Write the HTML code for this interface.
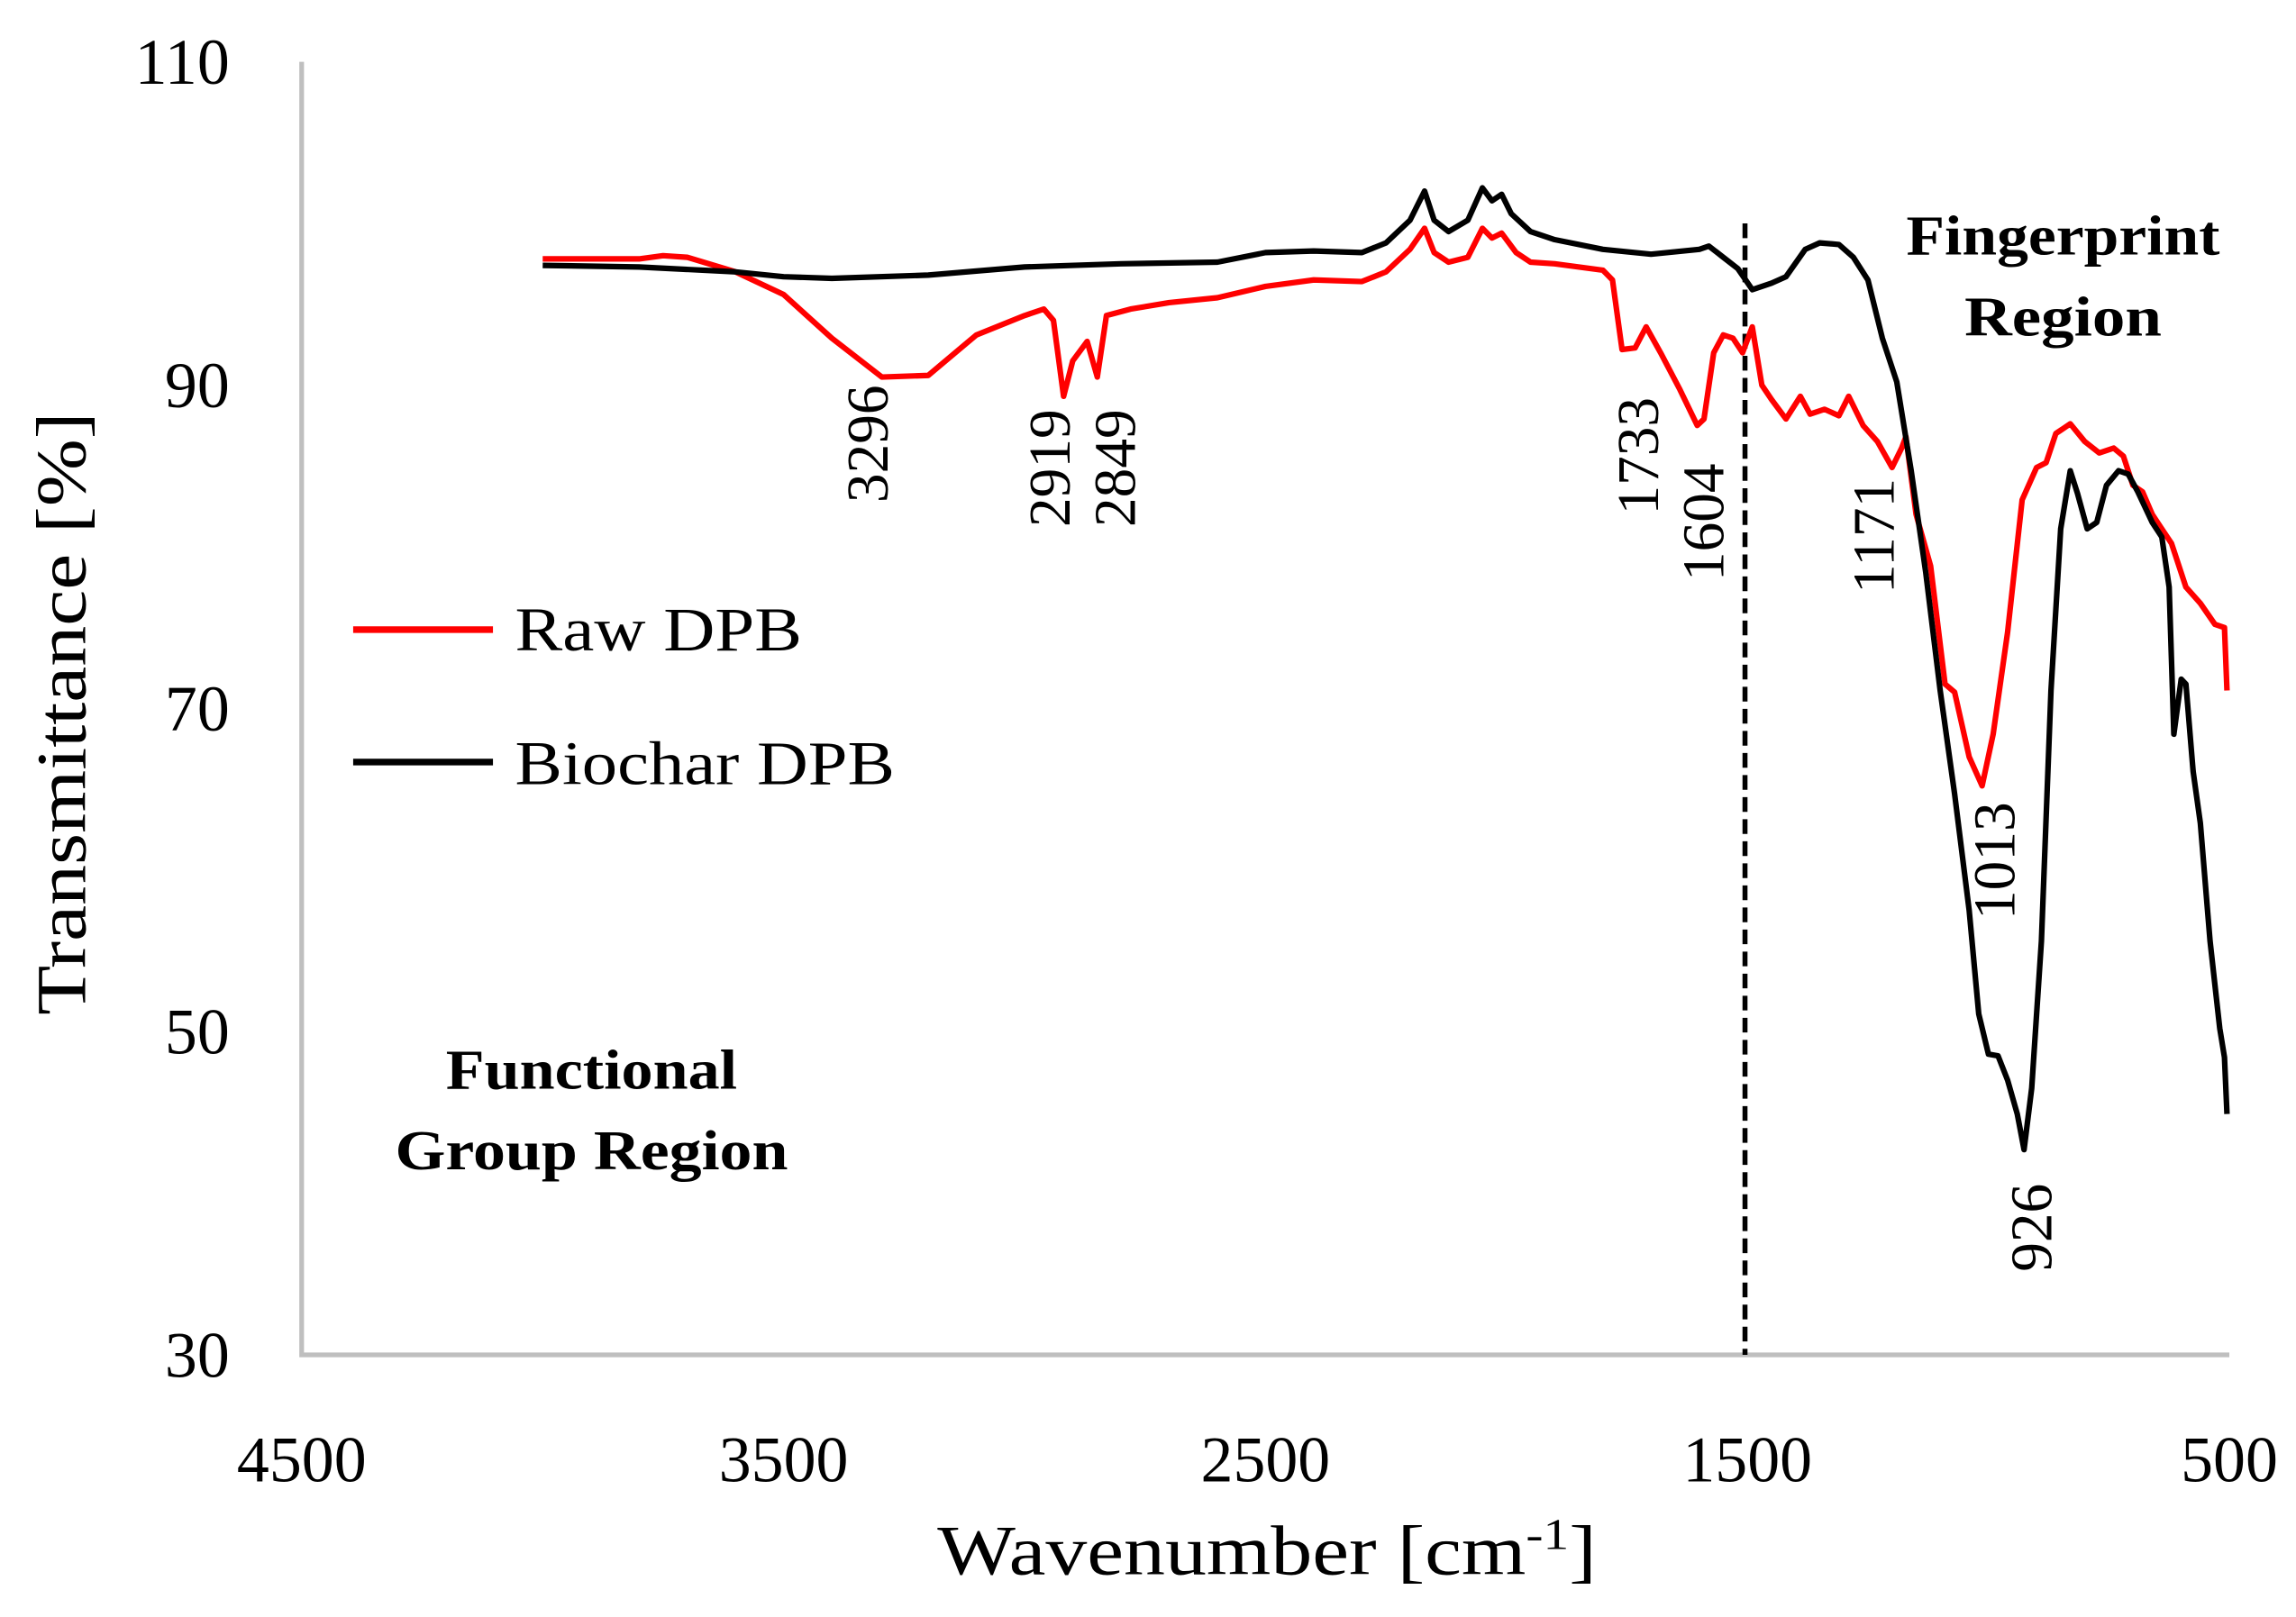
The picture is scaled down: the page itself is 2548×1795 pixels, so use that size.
<!DOCTYPE html>
<html><head><meta charset="utf-8"><style>
html,body{margin:0;padding:0;background:#fff;}
svg{display:block;font-family:"Liberation Serif",serif;}
</style></head><body>
<svg id="chart" width="2548" height="1795" viewBox="0 0 1560.3 1099.2" xmlns="http://www.w3.org/2000/svg">
<g id="plot"></g>
</svg>
<script>
const rawWn = [4000,3800,3750,3700,3600,3500,3400,3296,3200,3100,3000,2960,2940,2919,2900,2870,2849,2830,2780,2700,2600,2500,2400,2300,2250,2200,2170,2150,2120,2080,2050,2030,2010,1980,1950,1900,1800,1780,1760,1733,1710,1680,1640,1604,1590,1570,1550,1530,1510,1490,1470,1450,1420,1390,1370,1340,1310,1290,1260,1230,1200,1180,1171,1150,1120,1090,1070,1040,1013,990,960,930,900,880,860,830,800,770,740,720,700,680,660,640,620,590,560,530,510,505];
const rawT = [97.8,97.8,98.0,97.9,97.0,95.6,92.9,90.5,90.6,93.1,94.3,94.7,94.0,89.3,91.5,92.7,90.5,94.3,94.7,95.1,95.4,96.1,96.5,96.4,97.0,98.4,99.7,98.2,97.6,97.9,99.7,99.1,99.4,98.2,97.6,97.5,97.1,96.5,92.2,92.3,93.6,92.0,89.7,87.5,87.9,92.0,93.1,92.9,92.0,93.6,90.0,89.1,87.9,89.3,88.2,88.5,88.1,89.3,87.5,86.5,84.9,86.1,86.8,82.0,78.8,71.5,71.0,67.0,65.2,68.4,74.7,82.9,84.9,85.2,87.0,87.6,86.5,85.8,86.1,85.6,83.8,83.4,82.0,81.1,80.2,77.5,76.5,75.2,75.0,71.1];
const bioWn = [4000,3800,3600,3500,3400,3200,3000,2800,2600,2500,2400,2300,2250,2200,2170,2150,2120,2080,2050,2030,2010,1990,1950,1900,1800,1700,1600,1580,1550,1520,1490,1450,1420,1380,1350,1310,1280,1250,1220,1190,1160,1130,1100,1070,1040,1020,1000,980,960,940,926,910,890,870,850,830,815,795,775,755,730,710,690,660,640,625,615,600,590,575,560,540,520,510,505];
const bioT = [97.4,97.3,97.0,96.7,96.6,96.8,97.3,97.5,97.6,98.2,98.3,98.2,98.8,100.2,102.0,100.2,99.5,100.2,102.2,101.4,101.8,100.6,99.5,99.0,98.4,98.1,98.4,98.6,97.9,97.2,95.9,96.3,96.7,98.4,98.8,98.7,97.9,96.5,92.9,90.2,84.7,78.4,71.1,64.7,57.5,51.1,48.6,48.5,47.0,44.9,42.7,46.5,55.6,71.1,81.1,84.7,83.3,81.1,81.5,83.8,84.7,84.5,83.4,81.5,80.6,77.5,68.4,71.8,71.5,66.1,62.9,55.6,50.2,48.4,44.9];
const xTicks = [4500,3500,2500,1500,500];
const yTicks = [110,90,70,50,30];
const peakNames = ["3296","2919","2849","1733","1604","1171","1013","926"];
const peakLabelWn = [3327,2949,2814,1728,1593,1239,989,912];
const peakLabelT = [90.0,88.5,88.5,89.25,85.15,84.24,64.2,40.6];
const dividerWn = 1505;

const NS="http://www.w3.org/2000/svg";
const X0=205,X1=1515,Y0=42,Y1=921;
const sx=w=>X0+(4500-w)/4000*(X1-X0);
const sy=t=>Y0+(110-t)/80*(Y1-Y0);
const svg=document.getElementById('chart');
function mk(tag,attrs,parent){const e=document.createElementNS(NS,tag);for(const k in attrs)e.setAttribute(k,attrs[k]);(parent||svg).appendChild(e);return e;}

let ax=mk('path',{d:`M${X0},${Y0} V${Y1} H${X1}`,fill:'none',stroke:'#bfbfbf','stroke-width':3.2});



yTicks.forEach(v=>{const t=mk('text',{x:156,y:sy(v)+15,'text-anchor':'end','font-size':44});t.textContent=v;

});
xTicks.forEach(v=>{const t=mk('text',{x:sx(v),y:1007,'text-anchor':'middle','font-size':44});t.textContent=v;

});

let dv=mk('line',{x1:sx(dividerWn),x2:sx(dividerWn),y1:sy(100),y2:Y1,stroke:'#000','stroke-width':3.4,'stroke-dasharray':'10,5'});



function series(wn,tv,color,name){const d=wn.map((w,i)=>(i?'L':'M')+sx(w).toFixed(1)+','+sy(tv[i]).toFixed(1)).join(' ');
const p=mk('path',{d:d,fill:'none',stroke:color,'stroke-width':3.8,'stroke-linejoin':'round'});

}
series(rawWn,rawT,'#ff0000','raw-dpb-line');
series(bioWn,bioT,'#000000','biochar-dpb-line');

peakNames.forEach((s,i)=>{const x=sx(peakLabelWn[i])+14,y=sy(peakLabelT[i]);
const t=mk('text',{x:x,y:y,transform:`rotate(-90 ${x} ${y})`,'text-anchor':'end','font-size':40});t.textContent=s;

});

let l1=mk('line',{x1:240,x2:335,y1:428,y2:428,stroke:'#ff0000','stroke-width':4.5});


let t1=mk('text',{x:350,y:442,'font-size':42,textLength:195,lengthAdjust:'spacingAndGlyphs'});t1.textContent='Raw DPB';


let l2=mk('line',{x1:240,x2:335,y1:518,y2:518,stroke:'#000','stroke-width':4.5});


let t2=mk('text',{x:350,y:533,'font-size':42,textLength:258,lengthAdjust:'spacingAndGlyphs'});t2.textContent='Biochar DPB';



[['Fingerprint',1402,173,213],['Region',1402,228,134],['Functional',402,740,198],['Group Region',402,795,267]].forEach(a=>{
const t=mk('text',{x:a[1],y:a[2],'text-anchor':'middle','font-size':38,'font-weight':'bold',textLength:a[3],lengthAdjust:'spacingAndGlyphs'});t.textContent=a[0];

});

let xt=mk('text',{x:861,y:1070,'text-anchor':'middle','font-size':48,textLength:448,lengthAdjust:'spacingAndGlyphs'});
xt.innerHTML='Wavenumber [cm<tspan dy="-17" font-size="30">-1</tspan><tspan dy="17">]</tspan>';


let yt=mk('text',{x:58,y:485,'text-anchor':'middle','font-size':48,transform:'rotate(-90 58 485)',textLength:410,lengthAdjust:'spacingAndGlyphs'});yt.textContent='Transmittance [%]';


</script>
</body></html>
